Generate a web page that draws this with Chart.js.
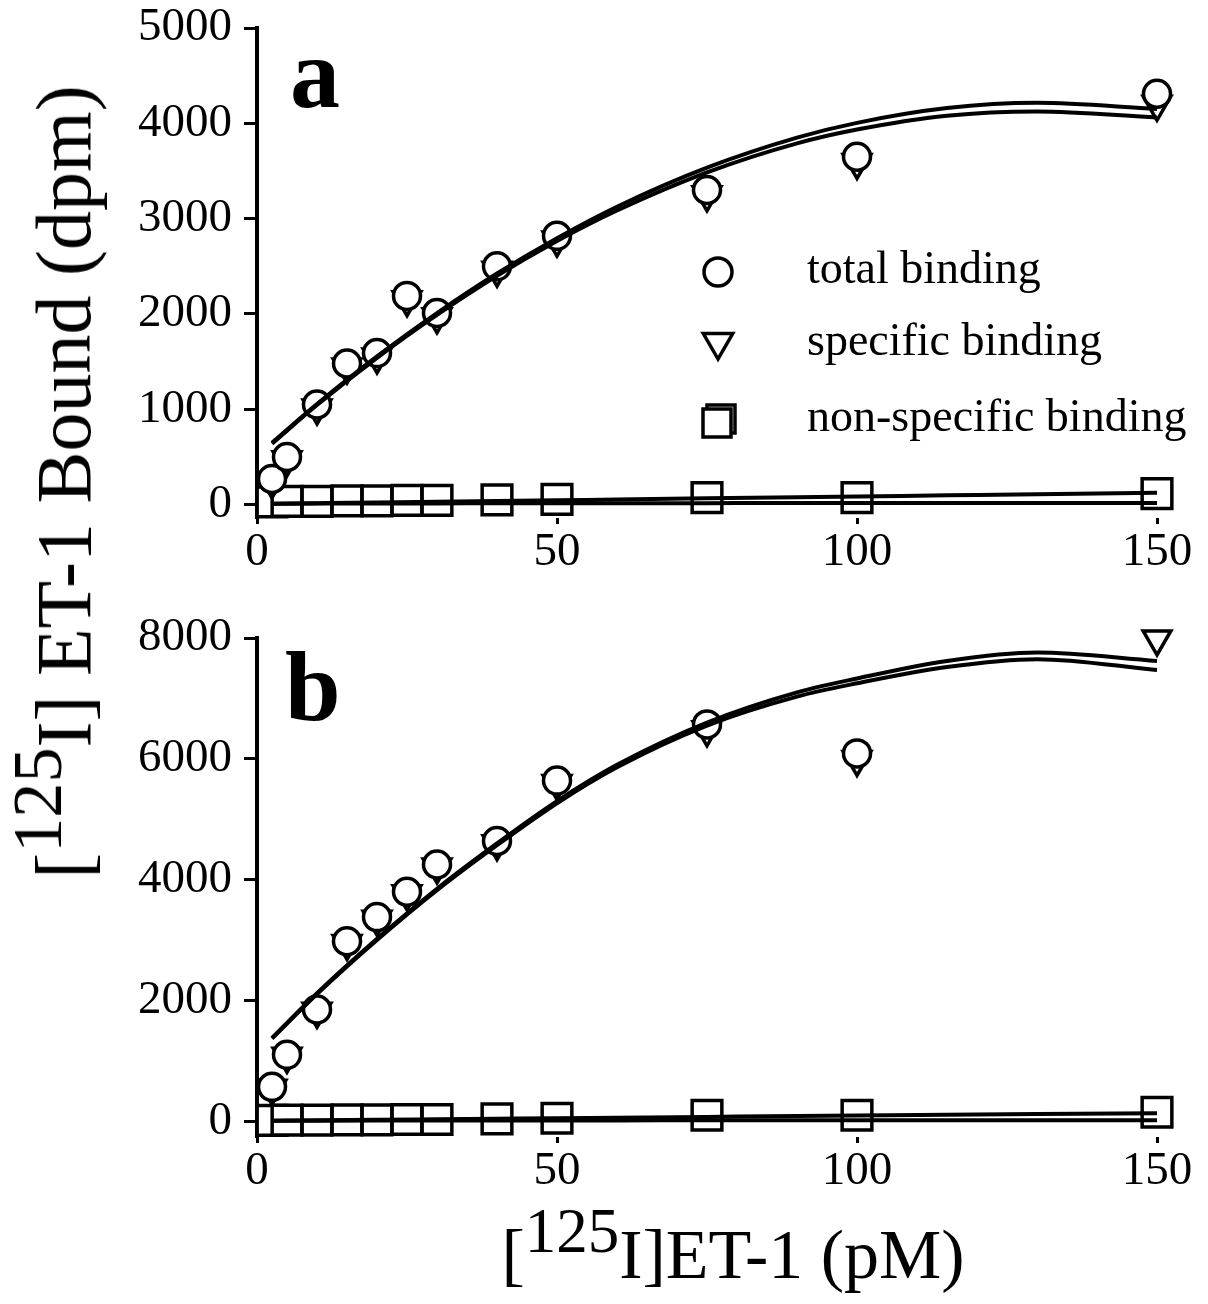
<!DOCTYPE html>
<html>
<head>
<meta charset="utf-8">
<script src="https://cdn.jsdelivr.net/npm/chart.js@4.4.0/dist/chart.umd.min.js"></script>
<style>
  body { margin: 0; background: #fff; width: 1208px; height: 1304px; position: relative; overflow: hidden; font-family: "Liberation Serif", "Times New Roman", serif; color: #000; }
  #cA { position: absolute; left: 0; top: 0; }
  #cB { position: absolute; left: 0; top: 600px; }
  .ytitle { position: absolute; left: 64px; top: 482px; transform: translate(-50%, -50%) rotate(-90deg); white-space: nowrap; font-size: 78px; line-height: 1; }
  .xtitle { position: absolute; left: 733px; top: 1220px; transform: translateX(-50%); white-space: nowrap; font-size: 70px; line-height: 1; }
  sup { font-size: 0.9em; vertical-align: 0.42em; line-height: 0; }
</style>
</head>
<body>
<canvas id="cA" width="1208" height="590"></canvas>
<canvas id="cB" width="1208" height="610"></canvas>
<div class="ytitle">[<sup>125</sup>I] ET-1 Bound (dpm)</div>
<div class="xtitle">[<sup>125</sup>I]ET-1 (pM)</div>
<script>
// concentrations (pM)
var conc = [2.5, 5, 10, 15, 20, 25, 30, 40, 50, 75, 100, 150];
var fitConc = [2.5, 10, 20, 30, 40, 50, 60, 75, 90, 100, 115, 130, 150];
var xTicks = [0, 50, 100, 150];

// panel a
var totalA    = [270, 500, 1050, 1480, 1590, 2190, 2010, 2500, 2820, 3300, 3650, 4310];
var specificA = [240, 470, 1015, 1445, 1550, 2150, 1970, 2460, 2775, 3250, 3590, 4200];
var nonspecA  = [30, 35, 35, 40, 40, 45, 45, 50, 55, 73, 73, 115];
var fitTotalA = [650, 1055, 1555, 2010, 2425, 2795, 3125, 3535, 3850, 4005, 4160, 4215, 4150];
var fitSpecA  = [640, 1045, 1540, 1990, 2400, 2765, 3085, 3485, 3790, 3935, 4080, 4125, 4060];
var fitNsA1   = [10, 15, 22, 30, 38, 46, 54, 66, 78, 86, 98, 110, 125];
var fitNsA2   = [10, 11, 12, 13, 14, 15, 15, 16, 17, 17, 18, 18, 18];
var yTicksA = [0, 1000, 2000, 3000, 4000, 5000];

// panel b
var totalB    = [570, 1100, 1850, 2980, 3380, 3800, 4250, 4640, 5640, 6570, 6090, null];
var specificB = [545, 1075, 1820, 2945, 3345, 3765, 4210, 4595, 5590, 6480, 5990, 7985];
var nonspecB  = [15, 20, 20, 25, 25, 30, 30, 40, 50, 100, 100, 150];
var fitTotalB = [1380, 2120, 3020, 3850, 4600, 5300, 5900, 6600, 7100, 7330, 7620, 7760, 7620];
var fitSpecB  = [1370, 2105, 3000, 3825, 4570, 5265, 5860, 6550, 7030, 7250, 7520, 7650, 7470];
var fitNsB1   = [10, 17, 25, 34, 43, 52, 60, 73, 86, 95, 108, 121, 135];
var fitNsB2   = [10, 11, 12, 13, 14, 15, 15, 16, 16, 17, 17, 17, 17];
var yTicksB = [0, 2000, 4000, 6000, 8000];

var legendLabels = ['total binding', 'specific binding', 'non-specific binding'];

function xy(xs, ys) {
  return xs.map(function(x, i) { return {x: x, y: ys[i]}; });
}

function fitLine(ys) {
  return {
    data: xy(fitConc, ys), borderColor: '#000', borderWidth: 4, pointRadius: 0,
    cubicInterpolationMode: 'monotone', fill: false, clip: false, order: 0
  };
}

function marker(ys, style, r, rot, ord) {
  return {
    data: xy(conc, ys), showLine: false, pointStyle: style, pointRadius: r, pointRotation: rot,
    pointBorderWidth: 3.5, pointBorderColor: '#000', pointBackgroundColor: '#fff',
    clip: false, order: ord
  };
}

var tickFont = {family: 'Liberation Serif', size: 47};

function panel(id, d) {
  return new Chart(document.getElementById(id), {
    type: 'line',
    data: {
      datasets: [
        fitLine(d.fitTotal), fitLine(d.fitSpec), fitLine(d.fitNs1), fitLine(d.fitNs2),
        marker(d.nonspec, 'rect', 21, 0, 3),
        marker(d.specific, 'triangle', 16, 180, 2),
        marker(d.total, 'circle', 13.5, 0, 1)
      ]
    },
    options: {
      responsive: false,
      animation: false,
      events: [],
      layout: {padding: {top: d.padTop, right: 51, left: 0, bottom: d.padBottom}},
      plugins: {legend: {display: false}, tooltip: {enabled: false}},
      scales: {
        x: {
          type: 'linear', min: 0, max: 150,
          afterBuildTicks: function(s) { s.ticks = xTicks.map(function(v) { return {value: v}; }); },
          afterFit: function(s) { s.height = 62; s.paddingLeft = 0; s.paddingRight = 0; },
          grid: {drawOnChartArea: false, tickLength: 6, tickWidth: 3, tickColor: '#000'},
          border: {display: false},
          ticks: {color: '#000', font: tickFont, padding: 0, maxRotation: 0, autoSkip: false,
                  callback: function(v) { return String(v); }}
        },
        y: {
          min: d.yMin, max: d.yMax,
          afterBuildTicks: function(s) { s.ticks = d.yTicks.map(function(v) { return {value: v}; }); },
          afterFit: function(s) { s.width = 257; s.paddingTop = 0; s.paddingBottom = 0; },
          grid: {drawOnChartArea: false, tickLength: 13, tickWidth: 3, tickColor: '#000'},
          border: {display: true, color: '#000', width: 4},
          ticks: {color: '#000', font: tickFont, padding: 12, autoSkip: false,
                  callback: function(v) { return String(v); }}
        }
      }
    },
    plugins: [{
      id: 'decor',
      afterDraw: function(chart) {
        var ctx = chart.ctx;
        ctx.save();
        ctx.fillStyle = '#000';
        ctx.textBaseline = 'alphabetic';
        ctx.textAlign = 'left';
        ctx.font = 'bold 100px "Liberation Serif"';
        ctx.fillText(d.letter, d.letterX, d.letterY);
        if (d.legend) drawLegend(ctx);
        ctx.restore();
      }
    }]
  });
}

function drawLegend(ctx) {
  var mx = 718;
  ctx.strokeStyle = '#000';
  ctx.lineWidth = 3.5;
  ctx.fillStyle = '#fff';
  // circle
  ctx.beginPath();
  ctx.arc(mx, 272, 14, 0, Math.PI * 2);
  ctx.fill(); ctx.stroke();
  // triangle pointing down
  var ty = 342, r = 17;
  ctx.beginPath();
  ctx.moveTo(mx, ty + r);
  ctx.lineTo(mx - r * 0.866, ty - r / 2);
  ctx.lineTo(mx + r * 0.866, ty - r / 2);
  ctx.closePath();
  ctx.fill(); ctx.stroke();
  // square with offset shadow
  ctx.beginPath();
  ctx.rect(707, 405, 28, 28);
  ctx.stroke();
  ctx.beginPath();
  ctx.rect(703, 409, 28, 28);
  ctx.fill(); ctx.stroke();
  ctx.fillStyle = '#000';
  ctx.font = '46px "Liberation Serif"';
  ctx.fillText(legendLabels[0], 807, 283);
  ctx.fillText(legendLabels[1], 807, 355);
  ctx.fillText(legendLabels[2], 807, 431);
}

panel('cA', {
  total: totalA, specific: specificA, nonspec: nonspecA,
  fitTotal: fitTotalA, fitSpec: fitSpecA, fitNs1: fitNsA1, fitNs2: fitNsA2,
  yMin: -140, yMax: 5000, yTicks: yTicksA,
  padTop: 28, padBottom: 10,
  letter: 'a', letterX: 290, letterY: 107, legend: true
});

panel('cB', {
  total: totalB, specific: specificB, nonspec: nonspecB,
  fitTotal: fitTotalB, fitSpec: fitSpecB, fitNs1: fitNsB1, fitNs2: fitNsB2,
  yMin: -260, yMax: 8000, yTicks: yTicksB,
  padTop: 38, padBottom: 11,
  letter: 'b', letterX: 285, letterY: 120, legend: false
});
</script>
</body>
</html>
